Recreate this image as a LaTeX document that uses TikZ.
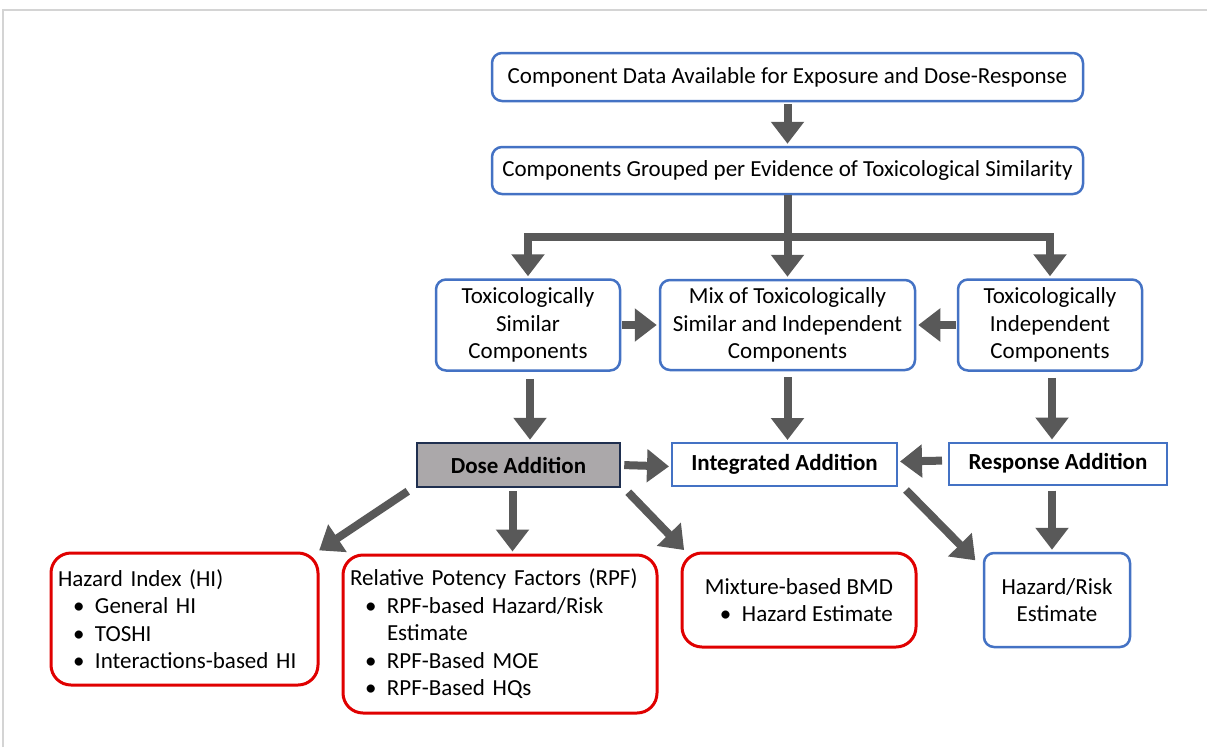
\documentclass[tikz,border=0pt]{standalone}
\usepackage{fontspec}
\setmainfont{Carlito}
\usetikzlibrary{arrows.meta,calc}

\definecolor{boxblue}{HTML}{4472C4}
\definecolor{boxred}{HTML}{E00000}
\definecolor{arrowgray}{HTML}{595959}
\definecolor{dosegray}{HTML}{ABA8AA}
\definecolor{dosenavy}{HTML}{1F2F4F}
\definecolor{framegray}{HTML}{D4D4D4}

% one bulleted entry inside a method box
\newcommand\itm[1]{\hspace*{15pt}\makebox[22pt][l]{•}#1}

\begin{document}
\begin{tikzpicture}[x=1pt,y=-1pt,
  font=\fontsize{23}{27.5}\selectfont,
  bluebox/.style={draw=boxblue, line width=2.5pt, rounded corners=10pt,
    fill=white, align=center, inner sep=0pt},
  flatbox/.style={draw=boxblue, line width=2pt, fill=white, align=center,
    inner sep=0pt, font=\fontsize{23}{27.5}\selectfont\bfseries},
  dosebox/.style={draw=dosenavy, line width=2.5pt, fill=dosegray, align=center,
    inner sep=0pt, font=\fontsize{23}{27.5}\selectfont\bfseries},
  redbox/.style={draw=boxred, line width=3pt, rounded corners=20pt, fill=white,
    align=left, inner xsep=7pt, inner ysep=0pt},
  shaft/.style={draw=arrowgray, line width=8pt},
  arr/.style={draw=arrowgray, line width=8pt,
    -{Triangle[width=32pt,length=22pt]}, shorten >=2pt},
]
\useasboundingbox (0,0) rectangle (1207,747);
\fill[white] (0,0) rectangle (1207,747);

% page frame
\draw[framegray, line width=2.5pt] (3,747) -- (3,10) -- (1207,10);

% flow boxes
\node[bluebox, minimum width=591pt, minimum height=48pt] (data) at (787.5,77)
  {Component Data Available for Exposure and Dose-Response};
\node[bluebox, minimum width=591pt, minimum height=47pt] (grp) at (787.5,170.5)
  {Components Grouped per Evidence of Toxicological Similarity};
\node[bluebox, minimum width=184pt, minimum height=91pt] (sim) at (528,325)
  {Toxicologically\\Similar\\Components};
\node[bluebox, minimum width=255pt, minimum height=90pt] (mix) at (787.5,325)
  {Mix of Toxicologically\\Similar and Independent\\Components};
\node[bluebox, minimum width=184pt, minimum height=91pt] (ind) at (1050,325)
  {Toxicologically\\Independent\\Components};

\node[dosebox, minimum width=203pt, minimum height=44pt] (dose) at (518.5,465)
  {Dose Addition};
\node[flatbox, minimum width=225pt, minimum height=43pt] (integ) at (784.5,464.5)
  {Integrated Addition};
\node[flatbox, minimum width=218pt, minimum height=42pt] (resp) at (1058,463.5)
  {Response Addition};

\node[redbox, text width=253pt, minimum height=132pt] (hi) at (184.5,619)
  {Hazard Index (HI)\\
   \itm{General HI}\\
   \itm{TOSHI}\\
   \itm{Interactions-based HI}};
\node[redbox, text width=300pt, minimum height=158pt] (rpf) at (500,634)
  {Relative Potency Factors (RPF)\\
   \itm{RPF-based Hazard/Risk}\\
   \hspace*{37pt}Estimate\\
   \itm{RPF-Based MOE}\\
   \itm{RPF-Based HQs}};
\node[redbox, inner xsep=0pt, minimum width=234pt, minimum height=94pt] (bmd) at (799,600)
  {Mixture-based BMD\\
   \itm{Hazard Estimate}};
\node[bluebox, minimum width=146pt, minimum height=94pt] (hr) at (1057,600)
  {Hazard/Risk\\Estimate};

% top of the flow
\draw[arr, shorten <=2pt] (data.south) -- (grp.north);
\coordinate (hub) at (787.5,237);
\draw[shaft] (grp.south) -- (hub);
\draw[arr] (hub) -| (sim.north);
\draw[arr] (hub) -- (mix.north);
\draw[arr] (hub) -| (ind.north);

% side arrows into the mixed group
\draw[arr, shorten <=1pt] (sim.east) -- (mix.west);
\draw[arr, shorten <=1pt] (ind.west) -- (mix.east);

% groups to their addition methods
\draw[arr, shorten <=7pt] ([xshift=2pt]sim.south) -- ([xshift=2pt]sim.south |- dose.north);
\draw[arr, shorten <=6pt] (mix.south) -- (mix.south |- integ.north);
\draw[arr, shorten <=6pt] ([xshift=2pt]ind.south) -- ([xshift=2pt]ind.south |- resp.north);
\draw[arr, shorten <=3pt] (dose.east) -- ([yshift=-2pt]integ.west);
\draw[arr, shorten <=6pt] ([yshift=3pt]resp.west) -- ([yshift=3pt]integ.east);

% addition methods to their estimates
\draw[arr] ([shift={(-8,3)}]dose.south west) -- ([shift={(-2,0)}]hi.north east);
\draw[arr, shorten <=3pt] ([xshift=-6pt]dose.south) -- ([xshift=-6pt]dose.south |- rpf.north);
\draw[arr] ([shift={(7,4)}]dose.south east) -- ([shift={(5,0)}]bmd.north west);
\draw[arr] ([shift={(8,3)}]integ.south east) -- ([shift={(-6,10)}]hr.north west);
\draw[arr, shorten <=5pt] ([xshift=-6pt]resp.south) -- ([xshift=-6pt]resp.south |- hr.north);
\end{tikzpicture}
\end{document}
